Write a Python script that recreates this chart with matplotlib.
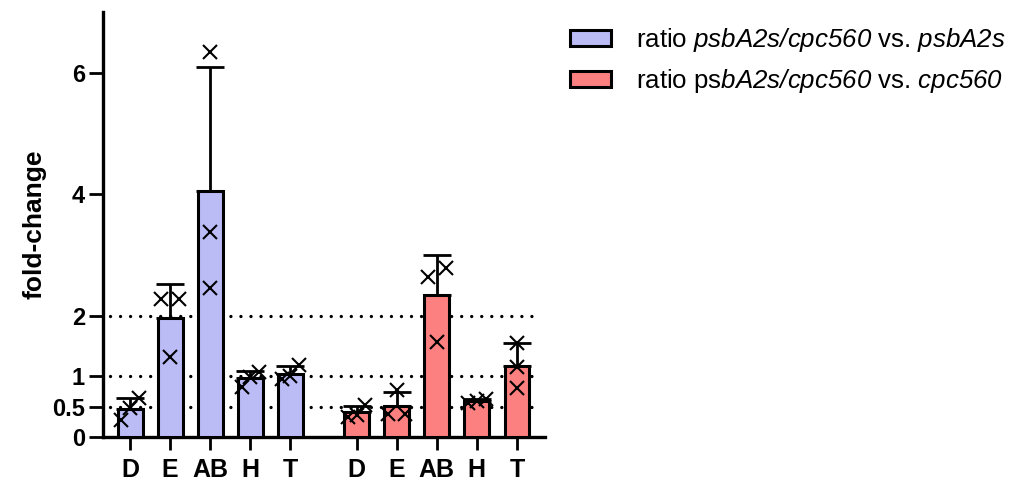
import numpy as np
import matplotlib
matplotlib.use("Agg")
import matplotlib.pyplot as plt
from matplotlib.patches import Patch

plt.rcParams["font.family"] = ["Liberation Sans", "DejaVu Sans"]
plt.rcParams["mathtext.fontset"] = "custom"
plt.rcParams["mathtext.rm"] = "Liberation Sans"
plt.rcParams["mathtext.sf"] = "Liberation Sans:italic"
plt.rcParams["mathtext.it"] = "Liberation Sans:italic"
plt.rcParams["mathtext.bf"] = "Liberation Sans:bold"

# ---- data -------------------------------------------------------------
categories = ["D", "E", "AB", "H", "T"]

# replicate fold-change values (three per condition)
reps_psbA2s = [
    [0.64, 0.28, 0.48],   # D
    [2.28, 2.28, 1.32],   # E
    [6.34, 3.37, 2.46],   # AB
    [1.07, 0.83, 0.99],   # H
    [1.18, 0.95, 1.00],   # T
]
reps_cpc560 = [
    [0.52, 0.33, 0.36],   # D
    [0.78, 0.38, 0.38],   # E
    [2.79, 2.64, 1.57],   # AB
    [0.62, 0.59, 0.56],   # H
    [1.55, 1.15, 0.80],   # T
]

# gene names set in italics (sf slot mapped to the italic face so digits slant too)
series_labels = [
    r"ratio $\mathsf{psbA2s/cpc560}$ vs. $\mathsf{psbA2s}$",
    r"ratio ps$\mathsf{bA2s/cpc560}$ vs. $\mathsf{cpc560}$",
]
ytick_values = [0, 0.5, 1, 2, 4, 6]
ytick_labels = ["0", "0.5", "1", "2", "4", "6"]
reference_lines = [0.5, 1, 2]

# ---- style ------------------------------------------------------------
colors = ["#BBBBF6", "#FC8080"]
bar_width = 0.62
group_gap = 5.65
edge_lw = 2.2


def spread_offsets(vals, thresh=0.2, span=0.44):
    """Horizontal offsets so that nearly-equal replicate markers don't overlap."""
    order = np.argsort(vals)
    offs = np.zeros(len(vals))
    clusters = [[order[0]]]
    for i in order[1:]:
        if vals[i] - vals[clusters[-1][-1]] < thresh:
            clusters[-1].append(i)
        else:
            clusters.append([i])
    for cl in clusters:
        n = len(cl)
        if n == 1:
            continue
        step = span / (n - 1)
        for k, idx in enumerate(cl):
            offs[idx] = (k - (n - 1) / 2) * step
    return offs


fig = plt.figure(figsize=(10.21, 4.87), dpi=100)
ax = fig.add_axes([0.1009, 0.1027, 0.4329, 0.8727])

xticks, xlabels = [], []
for g, (reps, col) in enumerate(zip([reps_psbA2s, reps_cpc560], colors)):
    x = np.arange(len(categories)) + g * group_gap
    arr = np.array(reps)
    means = arr.mean(axis=1)
    sds = arr.std(axis=1, ddof=1)
    ax.bar(x, means, width=bar_width, color=col, edgecolor="black",
           linewidth=edge_lw, zorder=3)
    ax.errorbar(x, means, yerr=[np.zeros_like(sds), sds], fmt="none",
                ecolor="black", elinewidth=2.0, capsize=10, capthick=2.0,
                zorder=2.5)
    for xi, row in zip(x, arr):
        offs = spread_offsets(row)
        ax.plot(xi + offs, row, linestyle="none", marker="x", markersize=10.5,
                markeredgewidth=1.5, color="black", zorder=5)
    xticks.extend(x)
    xlabels.extend(categories)

for yv in reference_lines:
    ax.hlines(yv, -0.5, 10.1, colors="black", linewidth=2.4,
              linestyles=(0, (0.01, 3.0)), capstyle="round", zorder=1)

ax.set_xlim(-0.675, 10.35)
ax.set_ylim(0, 7)
ax.set_yticks(ytick_values)
ax.set_yticklabels(ytick_labels, fontsize=17, fontweight="bold")
ax.set_xticks(xticks)
ax.set_xticklabels(xlabels, fontsize=18, fontweight="bold")
ax.tick_params(axis="y", length=10, width=2.0, pad=3)
ax.tick_params(axis="x", length=9, width=2.0, pad=6)
ax.set_ylabel("fold-change", fontsize=19, fontweight="bold", labelpad=4)

for s in ["top", "right"]:
    ax.spines[s].set_visible(False)
for s in ["left", "bottom"]:
    ax.spines[s].set_linewidth(2.4)

handles = [Patch(facecolor=c, edgecolor="black", linewidth=2.2) for c in colors]
fig.legend(handles, series_labels, loc="upper left",
           bbox_to_anchor=(0.558, 0.946), frameon=False, fontsize=18.6,
           handlelength=1.6, handleheight=0.58, handletextpad=0.97,
           labelspacing=0.5, borderpad=0, borderaxespad=0)

fig.savefig("out.png", dpi=100, facecolor="white")
